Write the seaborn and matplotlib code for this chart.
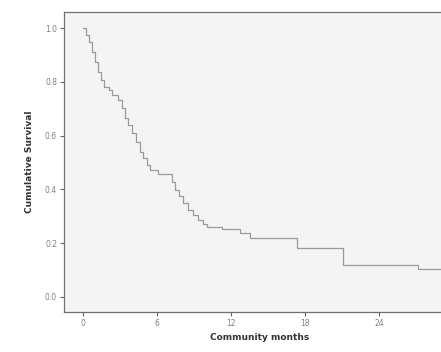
import matplotlib
matplotlib.use("Agg")
import matplotlib.pyplot as plt
import seaborn as sns
import pandas as pd

# Kaplan-Meier step points
months = [0, 0.24, 0.49, 0.73, 0.97, 1.22, 1.46, 1.70, 2.11, 2.35, 2.84, 3.16,
          3.41, 3.65, 3.97, 4.30, 4.62, 4.87, 5.19, 5.43, 6.08, 7.22, 7.46,
          7.79, 8.11, 8.52, 8.92, 9.33, 9.73, 10.06, 11.27, 12.73, 13.54,
          17.36, 21.09, 27.09, 31.0]
survival = [1.0, 0.974, 0.948, 0.911, 0.874, 0.836, 0.807, 0.781, 0.770,
            0.751, 0.732, 0.703, 0.665, 0.639, 0.610, 0.576, 0.539, 0.517,
            0.491, 0.472, 0.457, 0.428, 0.398, 0.375, 0.349, 0.323, 0.305,
            0.286, 0.271, 0.260, 0.253, 0.238, 0.219, 0.182, 0.119, 0.104,
            0.104]
x_ticks = [0, 6, 12, 18, 24]
y_ticks = [0.0, 0.2, 0.4, 0.6, 0.8, 1.0]

df = pd.DataFrame({"Community months": months, "Cumulative Survival": survival})

sns.set_style("white")
W, H = 441, 352
fig = plt.figure(figsize=(W / 100, H / 100), dpi=100)
fig.patch.set_facecolor("white")
# axes runs off the right edge like the cropped original
ax = fig.add_axes([64 / W, 1 - 312 / H, 392 / W, 300 / H])
ax.set_facecolor("#f4f4f4")

sns.lineplot(data=df, x="Community months", y="Cumulative Survival", ax=ax,
             drawstyle="steps-post", color="#9a9a9a", linewidth=0.9)

ax.set_xlim(-1.54, 30.2)
ax.set_ylim(-0.056, 1.06)
ax.set_xticks(x_ticks)
ax.set_xticklabels([str(t) for t in x_ticks])
ax.set_yticks(y_ticks)
ax.set_yticklabels([f"{t:.1f}" for t in y_ticks])
ax.tick_params(axis="both", direction="out", length=3, width=0.8,
               colors="#666666", labelsize=5.5, labelcolor="#808080",
               left=True, bottom=True, pad=2)
for side in ["left", "top", "bottom"]:
    ax.spines[side].set_visible(True)
    ax.spines[side].set_color("#707070")
    ax.spines[side].set_linewidth(0.9)
ax.spines["right"].set_visible(False)
ax.set_xlabel("Community months", fontsize=6.5, fontweight="bold",
              color="#333333", labelpad=4)
ax.set_ylabel("Cumulative Survival", fontsize=6.5, fontweight="bold",
              color="#333333", labelpad=8)

fig.savefig("out.png", dpi=100)
